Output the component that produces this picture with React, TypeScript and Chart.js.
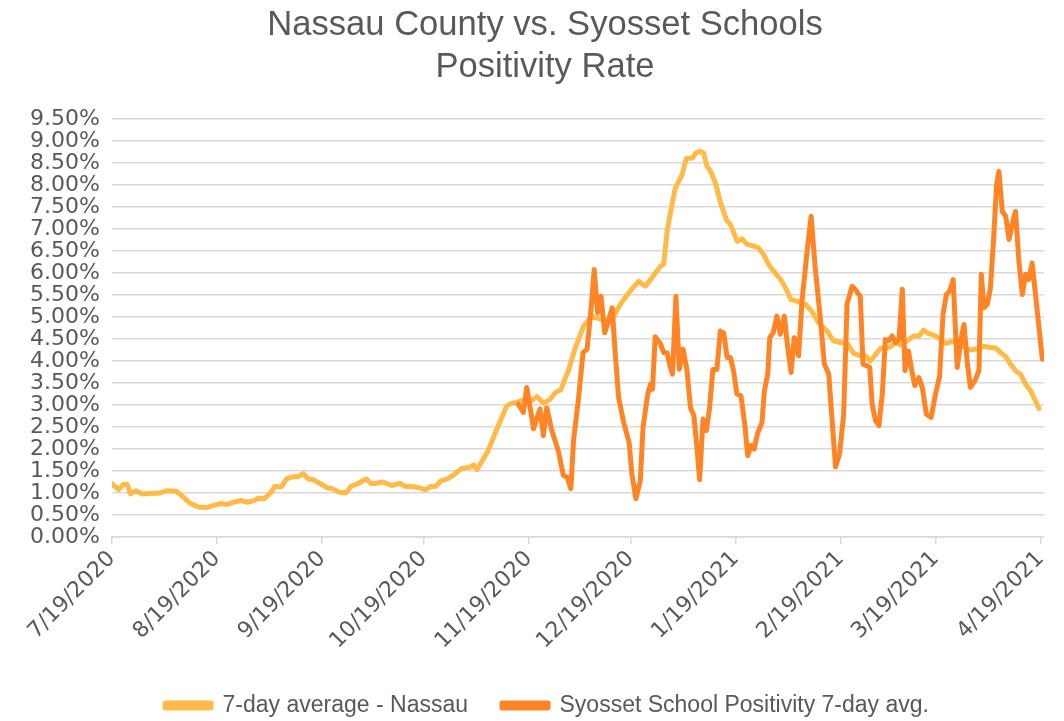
import React, { useEffect, useRef } from "react";
import { Chart, registerables } from "chart.js";

Chart.register(...registerables);

// Day offsets from 7/19/2020
const tickDays = [0, 31, 62, 92, 123, 153, 184, 215, 243, 274];
const tickLabels = [
  "7/19/2020", "8/19/2020", "9/19/2020", "10/19/2020", "11/19/2020",
  "12/19/2020", "1/19/2021", "2/19/2021", "3/19/2021", "4/19/2021",
];

const nassauDays = [
  0, 2, 3.5, 4.5, 5.5, 7, 9, 11, 14, 16, 19, 21, 23, 25.5, 28, 30, 32, 34, 36, 38,
  40, 42, 43, 45, 47, 48, 50, 51.5, 53.5, 55, 56.5, 58, 59.5, 61.5, 63.5, 65, 67, 69, 70.5, 72.5,
  75, 76.5, 78, 80, 82.5, 85, 86.5, 88.5, 90.5, 92.5, 94, 95.5, 97, 99, 101, 103, 105.7, 106.7, 107.7, 109,
  111, 113, 114.6, 116.5, 118, 119.5, 121, 123, 125.4, 127.4, 129.3, 130.8, 132.5, 133.8, 134.7, 136.7, 139.2, 141.6, 143.6, 145.5,
  147, 150, 152.9, 155.4, 157.4, 159.3, 161.8, 162.8, 163.8, 164.7, 166.2, 168.2, 169.5, 171.2, 172.2, 173.6, 174.6, 175.6, 176.6, 178.1,
  179.6, 181.3, 182.5, 184.5, 185.9, 187.4, 189.4, 190.8, 192.3, 193.8, 195.7, 197.7, 199.2, 200.3, 202.1, 204.6, 206.5, 208.5, 211, 212.9,
  214.9, 216.9, 218.9, 220.8, 222.3, 223.8, 225.3, 226.8, 228.2, 229.7, 231.2, 232.6, 234.6, 236.6, 238.1, 239.5, 241, 243, 244.5, 245.9,
  248.4, 250.9, 253.3, 255.3, 257.3, 259.2, 260.7, 262.2, 263.7, 265.1, 266.6, 268.1, 269.6, 271.1, 272.3, 273.5,
];
const nassauRate = [
  1.21, 1.08, 1.2, 1.2, 0.98, 1.05, 0.98, 0.99, 1.0, 1.05, 1.04, 0.91, 0.77, 0.68, 0.67, 0.72, 0.76, 0.74, 0.79, 0.83,
  0.79, 0.83, 0.88, 0.87, 1.02, 1.15, 1.14, 1.32, 1.37, 1.37, 1.44, 1.32, 1.3, 1.21, 1.12, 1.1, 1.02, 1.0, 1.15, 1.21,
  1.32, 1.21, 1.22, 1.25, 1.17, 1.22, 1.15, 1.15, 1.12, 1.07, 1.15, 1.15, 1.27, 1.32, 1.42, 1.55, 1.59, 1.64, 1.53, 1.7,
  1.96, 2.34, 2.64, 2.98, 3.04, 3.06, 3.11, 3.06, 3.19, 3.04, 3.13, 3.28, 3.35, 3.62, 3.78, 4.3, 4.8, 5.02, 4.97, 4.92,
  4.87, 5.29, 5.59, 5.81, 5.7, 5.89, 6.15, 6.2, 6.95, 7.33, 7.93, 8.23, 8.61, 8.61, 8.72, 8.77, 8.72, 8.42, 8.32, 8.04,
  7.59, 7.21, 7.1, 6.72, 6.78, 6.65, 6.61, 6.57, 6.42, 6.19, 6.0, 5.81, 5.59, 5.4, 5.36, 5.29, 5.13, 4.87, 4.68, 4.46,
  4.42, 4.4, 4.17, 4.12, 4.12, 4.0, 4.15, 4.29, 4.29, 4.32, 4.42, 4.36, 4.46, 4.57, 4.57, 4.7, 4.62, 4.57, 4.49, 4.4,
  4.45, 4.34, 4.25, 4.28, 4.34, 4.3, 4.3, 4.19, 4.1, 3.93, 3.78, 3.7, 3.47, 3.32, 3.12, 2.92,
];

const syossetDays = [
  119.9, 121.4, 122.4, 123.4, 124.4, 126.3, 127.3, 128.3, 129.8, 131.7, 133.2, 134.3, 135.4, 136.2, 137.7, 139.0, 140.2, 141.4, 142.3, 143.3,
  144.3, 145.4, 146.5, 147.6, 148.6, 149.5, 151.0, 152.6, 153.4, 154.6, 155.9, 156.7, 158.1, 158.9, 159.5, 160.3, 161.8, 162.8, 163.8, 164.5,
  165.4, 166.4, 167.4, 168.5, 169.7, 170.7, 171.7, 172.6, 173.4, 174.4, 175.4, 176.3, 177.3, 178.5, 179.5, 180.5, 181.5, 182.5, 183.4, 184.4,
  185.6, 186.7, 187.6, 188.6, 189.5, 190.5, 191.8, 192.5, 193.5, 194.1, 195.1, 196.2, 197.2, 198.4, 199.4, 200.4, 201.3, 202.6, 203.6, 205.1,
  206.3, 207.5, 209.0, 210.2, 211.5, 212.5, 213.5, 214.7, 215.9, 216.9, 218.4, 219.3, 220.8, 221.6, 222.8, 223.6, 224.3, 225.3, 226.3, 227.3,
  228.2, 229.2, 230.2, 231.2, 232.2, 233.2, 234.0, 235.0, 236.0, 236.9, 238.1, 239.1, 240.3, 241.7, 243.0, 244.2, 245.2, 246.2, 247.2, 248.2,
  249.4, 250.4, 251.4, 252.4, 253.3, 254.6, 255.8, 256.5, 257.3, 258.3, 259.2, 260.2, 261.0, 261.7, 262.7, 263.7, 264.7, 265.7, 266.6, 267.6,
  268.6, 269.6, 270.5, 271.5, 272.8, 274.5,
];
const syossetRate = [
  3.02, 2.83, 3.4, 2.94, 2.46, 2.91, 2.3, 2.94, 2.42, 1.96, 1.4, 1.36, 1.1, 2.19, 3.17, 4.19, 4.27, 5.21, 6.08, 5.1,
  5.47, 4.64, 4.91, 5.21, 4.08, 3.17, 2.6, 2.15, 1.44, 0.87, 1.28, 2.49, 3.25, 3.47, 3.36, 4.55, 4.4, 4.19, 4.19, 3.93,
  3.7, 5.47, 3.81, 4.27, 3.78, 2.94, 2.76, 2.04, 1.3, 2.68, 2.42, 2.91, 3.81, 3.81, 4.68, 4.64, 4.08, 4.08, 3.78, 3.25,
  3.21, 2.57, 1.85, 2.08, 2.0, 2.36, 2.6, 3.32, 3.7, 4.53, 4.64, 5.02, 4.61, 5.02, 4.3, 3.74, 4.53, 4.12, 5.36, 6.49,
  7.29, 6.12, 4.98, 3.93, 3.7, 2.64, 1.59, 1.89, 2.79, 5.3, 5.7, 5.63, 5.47, 3.93, 3.89, 3.85, 3.02, 2.64, 2.53, 3.25,
  4.49, 4.46, 4.57, 4.42, 4.49, 5.63, 3.78, 4.23, 3.78, 3.44, 3.62, 3.4, 2.79, 2.72, 3.25, 3.65, 5.06, 5.51, 5.59, 5.85,
  3.85, 4.46, 4.83, 3.93, 3.4, 3.55, 3.78, 5.97, 5.21, 5.29, 5.66, 6.87, 8.0, 8.31, 7.4, 7.29, 6.76, 7.14, 7.4, 6.27,
  5.51, 5.97, 5.85, 6.23, 5.29, 4.04,
];

const NARROW = "'Liberation Sans', Arial, sans-serif";
const WIDE = "'DejaVu Sans', Verdana, sans-serif";
const TEXT = "#595959";

const layoutTweaks = {
  id: "layoutTweaks",
  afterInit(chart: any) {
    const legend = chart.legend;
    if (!legend || legend.__trimmed) return;
    const orig = legend.fit;
    legend.fit = function () {
      orig.call(this);
      this.height -= 6;
    };
    legend.__trimmed = true;
  },
  afterLayout(chart: any) {
    const legend = chart.legend;
    if (legend) {
      legend.left += 16;
      legend.right += 16;
    }
    const title = chart.titleBlock;
    if (title) {
      title.left += 14;
      title.right += 14;
    }
  },
};

export default function App() {
  const ref = useRef<HTMLCanvasElement | null>(null);

  useEffect(() => {
    if (!ref.current) return;
    const chart = new Chart(ref.current, {
      type: "line",
      data: {
        datasets: [
          {
            label: "7-day average - Nassau",
            data: nassauDays.map((d, i) => ({ x: d, y: nassauRate[i] })),
            borderColor: "#FFBA47",
            backgroundColor: "#FFBA47",
            borderWidth: 5,
            pointRadius: 0,
            borderJoinStyle: "round",
            borderCapStyle: "round",
            order: 2,
          },
          {
            label: "Syosset School Positivity 7-day avg.",
            data: syossetDays.map((d, i) => ({ x: d, y: syossetRate[i] })),
            borderColor: "#FF8426",
            backgroundColor: "#FF8426",
            borderWidth: 5,
            pointRadius: 0,
            borderJoinStyle: "round",
            borderCapStyle: "round",
            order: 1,
          },
        ],
      },
      plugins: [layoutTweaks],
      options: {
        animation: false,
        responsive: false,
        maintainAspectRatio: false,
        layout: { padding: { left: 18, right: 20, top: 4, bottom: 0 } },
        plugins: {
          title: {
            display: true,
            text: ["Nassau County vs. Syosset Schools", "Positivity Rate"],
            color: TEXT,
            font: { family: NARROW, size: 34.6, weight: "normal" },
            lineHeight: 1.2,
            padding: { top: 1, bottom: 31 },
          },
          legend: {
            position: "bottom",
            labels: {
              color: TEXT,
              font: { family: NARROW, size: 23 },
              boxWidth: 46,
              boxHeight: 5,
              padding: 34,
              sort: (a: any, b: any) => a.datasetIndex - b.datasetIndex,
            },
          },
          tooltip: { enabled: false },
        },
        scales: {
          x: {
            type: "linear",
            min: 0,
            max: 275,
            afterBuildTicks: (axis: any) => {
              axis.ticks = tickDays.map((v) => ({ value: v }));
            },
            afterFit: (axis: any) => {
              axis.height = 721 - 537 - axis.chart.legend.height;
              axis.paddingLeft = 0;
            },
            ticks: {
              color: TEXT,
              font: { family: WIDE, size: 22 },
              minRotation: 45,
              maxRotation: 45,
              autoSkip: false,
              padding: 2,
              callback: (v: any) => {
                const i = tickDays.indexOf(Number(v));
                return i >= 0 ? tickLabels[i] : "";
              },
            },
            grid: {
              drawOnChartArea: false,
              drawTicks: true,
              tickLength: 7,
              color: "#D9D9D9",
              lineWidth: 1.5,
            },
            border: { display: true, color: "#D9D9D9", width: 1.5 },
          },
          y: {
            min: 0,
            max: 9.5,
            ticks: {
              stepSize: 0.5,
              autoSkip: false,
              color: TEXT,
              font: { family: WIDE, size: 22 },
              padding: 12,
              callback: (v: any) => Number(v).toFixed(2) + "%",
            },
            grid: { color: "#D9D9D9", lineWidth: 1.5, drawTicks: false },
            border: { display: false },
          },
        },
      },
    });
    return () => chart.destroy();
  }, []);

  return (
    <div style={{ position: "fixed", left: 0, top: 0, width: 1064, height: 721, background: "#fff" }}>
      <canvas ref={ref} width={1064} height={721} style={{ width: 1064, height: 721 }} />
    </div>
  );
}
